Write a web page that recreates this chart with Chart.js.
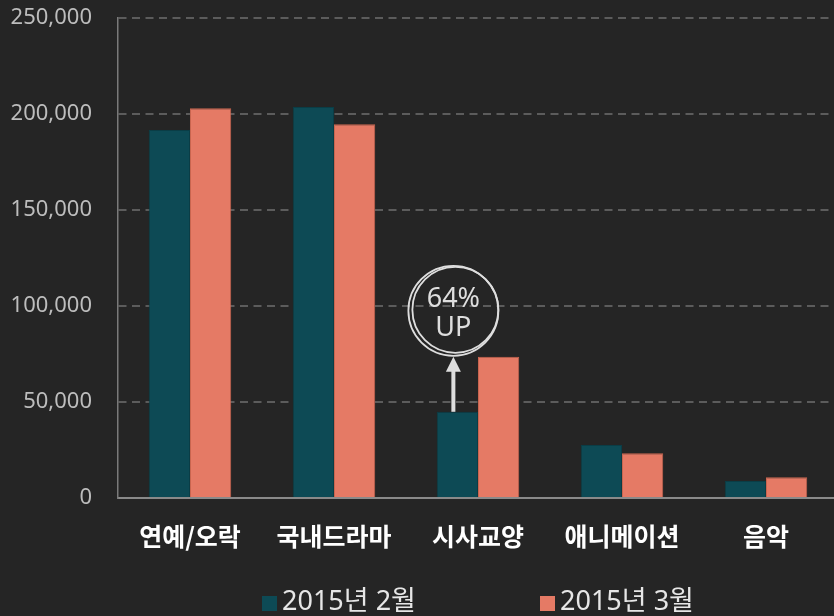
<!DOCTYPE html>
<html>
<head>
<meta charset="utf-8">
<script src="https://cdn.jsdelivr.net/npm/chart.js@4"></script>
<style>
  html, body { margin: 0; padding: 0; background: #252525; overflow: hidden; }
  #wrap { width: 834px; height: 616px; overflow: hidden; }
</style>
</head>
<body>
<div id="wrap"><canvas id="myChart" width="840" height="616"></canvas></div>
<script>
// categories and series
var categories = ["연예/오락", "국내드라마", "시사교양", "애니메이션", "음악"];
var seriesNames = ["2015년 2월", "2015년 3월"];
var feb = [191700, 203600, 44900, 27600, 8800];
var mar = [203000, 194600, 73600, 23300, 10800];
var yTicks = [0, 50000, 100000, 150000, 200000, 250000];
var upLabel = ["64%", "UP"];
var upIndex = 2;

var FONT = "'Noto Sans', 'Noto Sans CJK KR', sans-serif";
var colors = ["#0d4a55", "#e57a65"];
var borders = ["#0a3d46", "#c9654f"];

// custom legend drawn below the axis (wide gap between items)
var bottomLegend = {
  id: 'bottomLegend',
  afterDraw: function(chart) {
    var ctx = chart.ctx;
    var area = chart.chartArea;
    var mid = (area.left + area.right) / 2;
    var y = 603;
    ctx.save();
    ctx.font = "27px " + FONT;
    ctx.textBaseline = 'middle';
    ctx.textAlign = 'left';
    chart.data.datasets.forEach(function(ds, i) {
      var x = mid - 216 + i * 278;
      ctx.fillStyle = ds.backgroundColor;
      ctx.fillRect(x, y - 7, 15, 15);
      ctx.fillStyle = '#e6e6e6';
      ctx.fillText(ds.label, x + 20, y - 1);
    });
    ctx.restore();
  }
};

// "64% UP" badge with arrow above the feb bar
var upBadge = {
  id: 'upBadge',
  afterDatasetsDraw: function(chart) {
    var bar = chart.getDatasetMeta(0).data[upIndex];
    var ctx = chart.ctx;
    var x = bar.x - 4;
    var top = bar.y;
    var cy = top - 101;
    var r = 45;
    ctx.save();
    ctx.strokeStyle = '#dedede';
    ctx.fillStyle = '#dedede';
    // arrow shaft
    ctx.lineWidth = 4;
    ctx.beginPath();
    ctx.moveTo(x, top);
    ctx.lineTo(x, cy + r + 14);
    ctx.stroke();
    // arrow head
    ctx.beginPath();
    ctx.moveTo(x, cy + r + 1);
    ctx.lineTo(x - 7.5, cy + r + 16);
    ctx.lineTo(x + 7.5, cy + r + 16);
    ctx.closePath();
    ctx.fill();
    // double ring
    ctx.lineWidth = 1.8;
    ctx.beginPath();
    ctx.arc(x, cy, r, 0, Math.PI * 2);
    ctx.stroke();
    ctx.beginPath();
    ctx.arc(x + 2, cy - 1, r - 2, 0, Math.PI * 2);
    ctx.stroke();
    // text
    ctx.font = "27px " + FONT;
    ctx.textAlign = 'center';
    ctx.textBaseline = 'middle';
    ctx.fillText(upLabel[0], x, cy - 11);
    ctx.fillText(upLabel[1], x, cy + 18);
    ctx.restore();
  }
};

var ctx = document.getElementById("myChart").getContext('2d');
var myChart = new Chart(ctx, {
  type: 'bar',
  data: {
    labels: categories,
    datasets: [{
      label: seriesNames[0],
      data: feb,
      backgroundColor: colors[0],
      borderColor: borders[0],
      borderWidth: 1
    }, {
      label: seriesNames[1],
      data: mar,
      backgroundColor: colors[1],
      borderColor: borders[1],
      borderWidth: 1
    }]
  },
  options: {
    responsive: false,
    animation: false,
    devicePixelRatio: 1,
    layout: { padding: { left: 0, right: 2, top: 0, bottom: 0 } },
    datasets: {
      bar: { categoryPercentage: 0.573, barPercentage: 1 }
    },
    plugins: {
      legend: { display: false },
      tooltip: { enabled: false }
    },
    scales: {
      x: {
        grid: { display: false },
        border: { display: true, color: '#8a8a8a', width: 2 },
        afterFit: function(scale) { scale.height = 118; },
        ticks: {
          color: '#ffffff',
          padding: 15,
          font: { family: "'Noto Sans CJK KR', sans-serif", size: 25, weight: 'bold' }
        }
      },
      y: {
        min: 0,
        max: 250000,
        afterFit: function(scale) {
          scale.width = 118;
          scale.paddingTop = 18;
          scale.paddingBottom = 0;
        },
        afterBuildTicks: function(scale) {
          scale.ticks = yTicks.map(function(v) { return { value: v }; });
        },
        grid: {
          color: '#5c5c5c',
          lineWidth: 2,
          drawTicks: false
        },
        border: { display: true, color: '#7a7a7a', width: 1.5, dash: [8, 5.5] },
        ticks: {
          color: '#bdbdbd',
          padding: 26,
          font: { family: FONT, size: 22 },
          callback: function(v) { return v.toLocaleString('en-US'); }
        }
      }
    }
  },
  plugins: [upBadge, bottomLegend]
});
</script>
</body>
</html>
